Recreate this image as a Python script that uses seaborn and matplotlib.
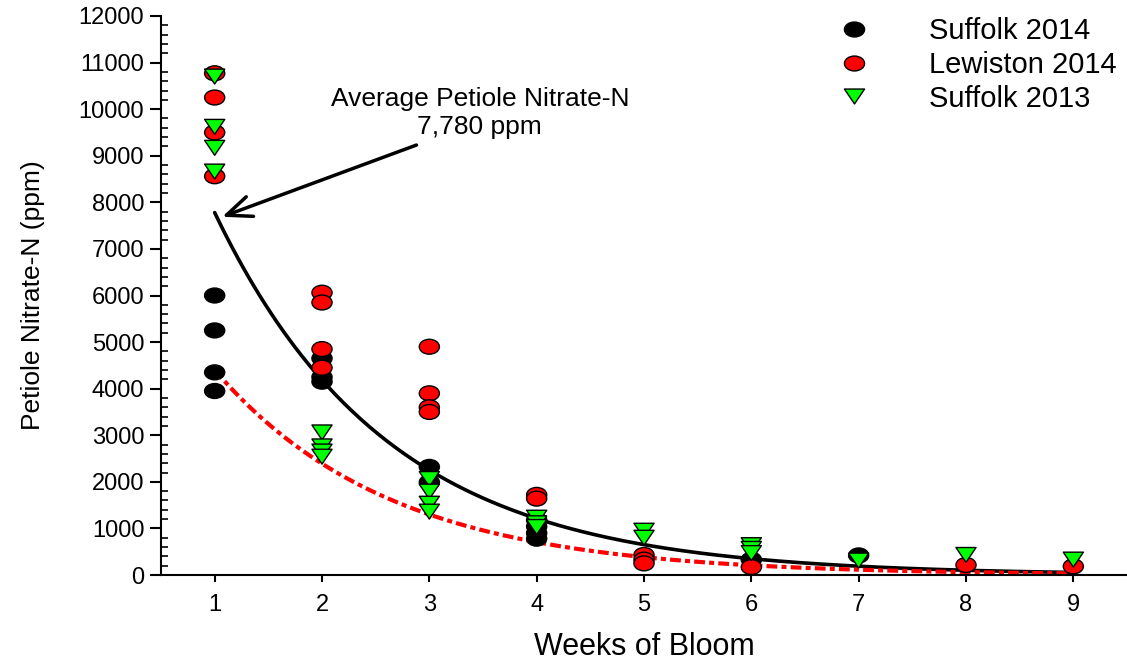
import numpy as np
import pandas as pd
import matplotlib.pyplot as plt
import seaborn as sns
from matplotlib.path import Path
from matplotlib.transforms import Affine2D
from matplotlib.ticker import MultipleLocator

# Petiole nitrate-N (ppm) by week of bloom, read per site
suffolk14_weeks = [1, 1, 1, 1, 2, 2, 2, 3, 3, 4, 4, 4, 4, 6, 7]
suffolk14_ppm = [6000, 5250, 4350, 3950, 4650, 4250, 4150, 2320, 1990,
                 1180, 1040, 900, 780, 330, 420]

lewiston14_weeks = [1, 1, 1, 1, 2, 2, 2, 2, 3, 3, 3, 3, 4, 4, 5, 5, 5, 6, 8, 9]
lewiston14_ppm = [10770, 10250, 9500, 8560, 6060, 5850, 4850, 4450, 4900, 3900,
                  3600, 3500, 1720, 1640, 430, 330, 250, 170, 215, 185]

suffolk13_weeks = [1, 1, 1, 1, 2, 2, 2, 2, 3, 3, 3, 3, 4, 4, 4, 5, 5, 6, 6, 6, 7, 8, 9]
suffolk13_ppm = [10700, 9620, 9170, 8660, 3060, 2760, 2650, 2540, 2060, 1790,
                 1530, 1360, 1230, 1110, 1030, 950, 800, 640, 560, 470, 310, 430, 330]

sites = ['Suffolk 2014', 'Lewiston 2014', 'Suffolk 2013']
site_colors = ['black', '#ff0000', '#00ff00']

# exponential fits: ppm = a * exp(-b * (week - 1))
fit_solid = (7780, 0.62)
fit_dashed = (4400, 0.61)

week_ticks = list(range(1, 10))
ppm_ticks = list(range(0, 12001, 1000))

df = pd.concat([
    pd.DataFrame({'week': suffolk14_weeks, 'ppm': suffolk14_ppm, 'site': sites[0]}),
    pd.DataFrame({'week': lewiston14_weeks, 'ppm': lewiston14_ppm, 'site': sites[1]}),
    pd.DataFrame({'week': suffolk13_weeks, 'ppm': suffolk13_ppm, 'site': sites[2]}),
], ignore_index=True)

# the original is stretched sideways, so markers are wider than tall
ellipse = Affine2D().scale(1.35, 1).transform_path(Path.unit_circle())
tri_down = Path([(-1.35, 1), (1.35, 1), (0, -1), (-1.35, 1)],
                [Path.MOVETO, Path.LINETO, Path.LINETO, Path.CLOSEPOLY])
site_markers = {sites[0]: ellipse, sites[1]: ellipse, sites[2]: tri_down}

sns.set_style('white')
plt.rcParams['font.family'] = ['Liberation Sans', 'DejaVu Sans']
plt.rcParams['text.color'] = 'black'
plt.rcParams['axes.labelcolor'] = 'black'
plt.rcParams['xtick.color'] = 'black'
plt.rcParams['ytick.color'] = 'black'
plt.rcParams['axes.edgecolor'] = 'black'

fig = plt.figure(figsize=(11.27, 6.62), dpi=100)
ax = fig.add_axes([161 / 1127, 87 / 662, 966 / 1127, 559 / 662])

xs = np.linspace(1, 9, 300)
ax.plot(xs, fit_solid[0] * np.exp(-fit_solid[1] * (xs - 1)), color='black', lw=2.6, zorder=2)
ax.plot(xs, fit_dashed[0] * np.exp(-fit_dashed[1] * (xs - 1)), color='#ff0000', lw=3,
        dashes=(2.6, 1.0, 1.2, 1.0), zorder=2)

sns.scatterplot(data=df, x='week', y='ppm', hue='site', style='site',
                hue_order=sites, style_order=sites,
                palette=dict(zip(sites, site_colors)), markers=site_markers,
                s=210, edgecolor='black', linewidth=1, ax=ax, zorder=3)

ax.annotate('', xy=(1.07, 7690), xytext=(2.88, 9230),
            arrowprops=dict(arrowstyle='->,head_length=0.6,head_width=0.25',
                            lw=2.5, color='black', mutation_scale=30,
                            shrinkA=0, shrinkB=0))
ax.text(3.47, 9920, 'Average Petiole Nitrate-N\n7,780 ppm', ha='center', va='center',
        fontsize=19, linespacing=1.2)

ax.set_xlim(0.5, 9.5)
ax.set_ylim(0, 12000)
ax.set_xticks(week_ticks)
ax.set_yticks(ppm_ticks)
ax.yaxis.set_minor_locator(MultipleLocator(200))

for side in ['top', 'right']:
    ax.spines[side].set_visible(False)
for side in ['left', 'bottom']:
    ax.spines[side].set_linewidth(1.5)

ax.tick_params(axis='y', which='major', direction='out', length=8, width=1.5,
               labelsize=17, pad=4, left=True)
ax.tick_params(axis='y', which='minor', direction='in', length=5, width=1.2, left=True)
ax.tick_params(axis='x', which='major', direction='out', length=5, width=1.5,
               labelsize=17, pad=9, bottom=True)

ax.set_xlabel('Weeks of Bloom', fontsize=22, labelpad=11)
ax.set_ylabel('Petiole Nitrate-N (ppm)', fontsize=19, labelpad=24)

handles, labels = ax.get_legend_handles_labels()
ax.legend(handles, labels, loc='upper right', bbox_to_anchor=(1117 / 1127, 1 - 17 / 662),
          bbox_transform=fig.transFigure, frameon=False, fontsize=21,
          handletextpad=1.6, labelspacing=0.2, borderaxespad=0, borderpad=0)

plt.savefig('out.png', dpi=100)
